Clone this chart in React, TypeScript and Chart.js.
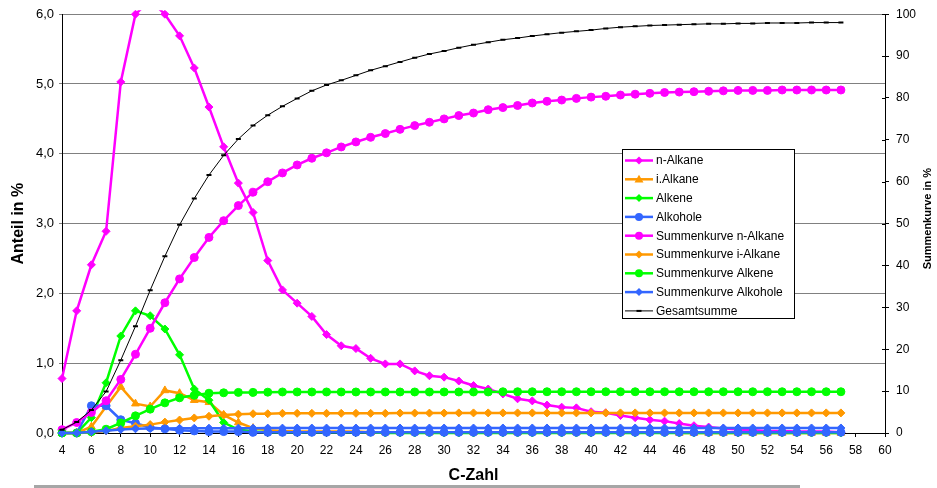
import React, { useEffect, useRef } from 'react';
import { Chart, registerables } from 'chart.js';

Chart.register(...registerables);

// ---------- data ----------
const carbonNumbers = [
  4, 5, 6, 7, 8, 9, 10, 11, 12, 13, 14, 15, 16, 17, 18, 19, 20, 21, 22, 23,
  24, 25, 26, 27, 28, 29, 30, 31, 32, 33, 34, 35, 36, 37, 38, 39, 40, 41, 42, 43,
  44, 45, 46, 47, 48, 49, 50, 51, 52, 53, 54, 55, 56, 57,
];

// left axis (Anteil in %)
const nAlkane = [
  0.78, 1.75, 2.41, 2.89, 5.03, 6.0, 6.2, 6.0, 5.69, 5.23,
  4.67, 4.1, 3.58, 3.16, 2.47, 2.05, 1.86, 1.67, 1.41, 1.25,
  1.21, 1.07, 0.99, 0.99, 0.89, 0.82, 0.8, 0.745, 0.68, 0.63,
  0.56, 0.49, 0.46, 0.4, 0.37, 0.36, 0.305, 0.29, 0.25, 0.22,
  0.19, 0.17, 0.135, 0.105, 0.085, 0.065, 0.05, 0.04, 0.03, 0.03,
  0.02, 0.02, 0.02, 0.01,
];
const iAlkane = [
  0, 0, 0.09, 0.38, 0.66, 0.42, 0.38, 0.61, 0.57, 0.47,
  0.44, 0.26, 0.15, 0.07, 0.04, 0.03, 0.02, 0.02, 0.02, 0.02,
  0.02, 0.01, 0.01, 0.01, 0.01, 0.01, 0.01, 0.01, 0.01, 0.01,
  0.01, 0.01, 0.01, 0.01, 0.01, 0.01, 0.01, 0.01, 0.01, 0.01,
  0.01, 0.01, 0, 0, 0, 0, 0, 0, 0, 0,
  0, 0, 0, 0,
];
const alkene = [
  0, 0, 0.22, 0.72, 1.39, 1.75, 1.68, 1.49, 1.12, 0.63,
  0.47, 0.15, 0.05, 0.02, 0.01, 0.01, 0.01, 0.01, 0.01, 0.01,
  0.01, 0.01, 0, 0, 0, 0, 0, 0, 0, 0,
  0, 0, 0, 0, 0, 0, 0, 0, 0, 0,
  0, 0, 0, 0, 0, 0, 0, 0, 0, 0,
  0, 0, 0, 0,
];
const alkohole = [
  0, 0, 0.39, 0.39, 0.19, 0.14, 0.08, 0.06, 0.04, 0.03,
  0.02, 0.02, 0.02, 0.01, 0.01, 0.01, 0.01, 0.01, 0.01, 0.01,
  0.01, 0.01, 0.01, 0.01, 0.01, 0.01, 0.01, 0.01, 0.01, 0.01,
  0.01, 0.01, 0.01, 0.01, 0.01, 0.01, 0.01, 0.01, 0.01, 0.01,
  0.01, 0.01, 0.01, 0.01, 0.01, 0.01, 0.01, 0.01, 0.01, 0.01,
  0.01, 0.01, 0.01, 0.01,
];

// right axis (Summenkurve in %)
const sumNAlkane = [
  0.8, 2.5, 4.9, 7.7, 12.8, 18.8, 25.0, 31.1, 36.8, 41.9,
  46.7, 50.7, 54.3, 57.5, 60.0, 62.1, 64.0, 65.6, 66.9, 68.3,
  69.5, 70.6, 71.5, 72.5, 73.4, 74.2, 75.0, 75.8, 76.4, 77.2,
  77.7, 78.2, 78.8, 79.2, 79.5, 79.9, 80.2, 80.4, 80.7, 80.9,
  81.1, 81.3, 81.4, 81.5, 81.6, 81.7, 81.8, 81.8, 81.8, 81.9,
  81.9, 81.9, 81.9, 81.9,
];
const sumIAlkane = [
  0, 0, 0.1, 0.5, 1.2, 1.6, 2.0, 2.6, 3.1, 3.6,
  4.0, 4.3, 4.5, 4.6, 4.6, 4.7, 4.7, 4.7, 4.7, 4.7,
  4.7, 4.7, 4.7, 4.75, 4.75, 4.75, 4.75, 4.8, 4.8, 4.8,
  4.8, 4.8, 4.8, 4.8, 4.8, 4.8, 4.8, 4.8, 4.8, 4.8,
  4.8, 4.8, 4.8, 4.8, 4.8, 4.8, 4.8, 4.8, 4.8, 4.8,
  4.8, 4.8, 4.8, 4.8,
];
const sumAlkene = [
  0, 0, 0.3, 0.9, 2.4, 4.1, 5.7, 7.2, 8.4, 9.0,
  9.5, 9.6, 9.7, 9.7, 9.75, 9.8, 9.8, 9.8, 9.8, 9.8,
  9.8, 9.8, 9.8, 9.8, 9.8, 9.8, 9.8, 9.8, 9.8, 9.8,
  9.85, 9.85, 9.85, 9.85, 9.85, 9.85, 9.85, 9.85, 9.85, 9.85,
  9.85, 9.85, 9.85, 9.85, 9.85, 9.85, 9.85, 9.85, 9.85, 9.85,
  9.85, 9.85, 9.85, 9.85,
];
const sumAlkohole = [
  0, 0, 0.3, 0.55, 0.85, 1.0, 1.05, 1.1, 1.12, 1.14,
  1.15, 1.15, 1.16, 1.16, 1.17, 1.17, 1.18, 1.18, 1.18, 1.18,
  1.19, 1.19, 1.19, 1.19, 1.19, 1.19, 1.19, 1.19, 1.19, 1.19,
  1.2, 1.2, 1.2, 1.2, 1.2, 1.2, 1.2, 1.2, 1.2, 1.2,
  1.2, 1.2, 1.2, 1.2, 1.2, 1.2, 1.2, 1.2, 1.2, 1.2,
  1.2, 1.2, 1.2, 1.2,
];
const gesamtsumme = [
  0.8, 2.6, 5.5, 9.9, 17.4, 25.5, 34.1, 42.2, 49.7, 56.0,
  61.6, 66.3, 70.2, 73.4, 75.9, 78.0, 79.9, 81.7, 83.1, 84.2,
  85.4, 86.6, 87.6, 88.6, 89.6, 90.5, 91.2, 92.0, 92.7, 93.3,
  93.9, 94.3, 94.8, 95.2, 95.6, 95.9, 96.2, 96.6, 96.9, 97.1,
  97.3, 97.4, 97.5, 97.6, 97.7, 97.7, 97.8, 97.8, 97.9, 97.9,
  97.9, 98.0, 98.0, 98.0,
];

const xTickMin = 4;
const xTickMax = 60;
const leftTicksMax = 6;
const rightTicksMax = 100;

// ---------- styling ----------
const MAGENTA = '#FF00FF';
const ORANGE = '#FF9900';
const GREEN = '#00FF00';
const BLUE = '#3366FF';
const FONT = "'Liberation Sans', Arial, Helvetica, sans-serif";

type Marker = 'diamond' | 'triangle' | 'circle' | 'dash';

const styleToChart: Record<Marker, string> = {
  diamond: 'rectRot',
  triangle: 'triangle',
  circle: 'circle',
  dash: 'line',
};

function makeSeries(
  label: string,
  values: number[],
  color: string,
  marker: Marker,
  axis: 'y' | 'y1',
  index: number,
) {
  const isDash = marker === 'dash';
  const radius = marker === 'circle' ? 4 : marker === 'triangle' ? 4.5 : isDash ? 2.5 : 4;
  return {
    label,
    data: carbonNumbers.map((c, i) => ({ x: c, y: values[i] })),
    yAxisID: axis,
    borderColor: color,
    backgroundColor: color,
    borderWidth: isDash ? 1 : 2.5,
    pointStyle: styleToChart[marker],
    pointRadius: radius,
    pointBorderWidth: isDash ? 2 : 1,
    pointBackgroundColor: color,
    pointBorderColor: color,
    tension: 0,
    fill: false,
    clip: { left: 8, right: 8, top: 4, bottom: 8 },
    order: 20 - index,
    _marker: marker,
  } as any;
}

function drawMarker(ctx: CanvasRenderingContext2D, marker: Marker, x: number, y: number, color: string) {
  ctx.save();
  ctx.fillStyle = color;
  ctx.strokeStyle = color;
  ctx.beginPath();
  if (marker === 'diamond') {
    const r = 4;
    ctx.moveTo(x, y - r);
    ctx.lineTo(x + r, y);
    ctx.lineTo(x, y + r);
    ctx.lineTo(x - r, y);
    ctx.closePath();
    ctx.fill();
  } else if (marker === 'triangle') {
    const r = 4.5;
    ctx.moveTo(x, y - r);
    ctx.lineTo(x + r, y + r * 0.7);
    ctx.lineTo(x - r, y + r * 0.7);
    ctx.closePath();
    ctx.fill();
  } else if (marker === 'circle') {
    ctx.arc(x, y, 4, 0, Math.PI * 2);
    ctx.fill();
  } else {
    ctx.lineWidth = 2;
    ctx.moveTo(x - 2.5, y);
    ctx.lineTo(x + 2.5, y);
    ctx.stroke();
  }
  ctx.restore();
}

const decorPlugin = {
  id: 'decor',
  afterDraw(chart: any) {
    const ctx: CanvasRenderingContext2D = chart.ctx;
    const area = chart.chartArea;

    // inner tick marks on right axis
    const y1 = chart.scales.y1;
    ctx.save();
    ctx.strokeStyle = '#000';
    ctx.lineWidth = 1;
    y1.ticks.forEach((t: any) => {
      const py = Math.round(y1.getPixelForValue(t.value)) + 0.5;
      ctx.beginPath();
      ctx.moveTo(area.right - 3, py);
      ctx.lineTo(area.right, py);
      ctx.stroke();
    });
    ctx.restore();

    // axis titles
    ctx.save();
    ctx.fillStyle = '#000';
    ctx.textAlign = 'center';
    ctx.textBaseline = 'middle';
    const midY = (area.top + area.bottom) / 2;

    ctx.save();
    ctx.translate(19, midY);
    ctx.rotate(-Math.PI / 2);
    ctx.font = `bold 16px ${FONT}`;
    ctx.fillText('Anteil in %', 0, 0);
    ctx.restore();

    ctx.save();
    ctx.translate(928, midY - 5);
    ctx.rotate(-Math.PI / 2);
    ctx.font = `bold 11px ${FONT}`;
    ctx.fillText('Summenkurve in %', 0, 0);
    ctx.restore();

    ctx.font = `bold 16px ${FONT}`;
    ctx.fillText('C-Zahl', (area.left + area.right) / 2, 476);
    ctx.restore();

    // separator line at bottom
    ctx.save();
    ctx.fillStyle = '#a6a6a6';
    ctx.fillRect(34, 485, 766, 3);
    ctx.restore();

    // legend
    const lx = 622;
    const ly = 149;
    const lw = 173;
    const lh = 170;
    ctx.save();
    ctx.fillStyle = '#fff';
    ctx.fillRect(lx, ly, lw, lh);
    ctx.strokeStyle = '#000';
    ctx.lineWidth = 1;
    ctx.strokeRect(lx + 0.5, ly + 0.5, lw - 1, lh - 1);
    ctx.font = `12px ${FONT}`;
    ctx.textAlign = 'left';
    ctx.textBaseline = 'middle';
    const ds = chart.data.datasets;
    ds.forEach((d: any, i: number) => {
      const ry = ly + 11.5 + i * 18.8;
      ctx.strokeStyle = d.borderColor;
      ctx.lineWidth = d._marker === 'dash' ? 1 : 2.5;
      ctx.beginPath();
      ctx.moveTo(lx + 3, ry);
      ctx.lineTo(lx + 31, ry);
      ctx.stroke();
      drawMarker(ctx, d._marker, lx + 17, ry, d.borderColor);
      ctx.fillStyle = '#000';
      ctx.fillText(d.label, lx + 34, ry + 0.5);
    });
    ctx.restore();
  },
};

export default function App() {
  const canvasRef = useRef<HTMLCanvasElement | null>(null);

  useEffect(() => {
    document.body.style.margin = '0';
    const canvas = canvasRef.current;
    if (!canvas) return;
    Chart.defaults.font.family = FONT;
    Chart.defaults.color = '#000';

    const datasets = [
      makeSeries('n-Alkane', nAlkane, MAGENTA, 'diamond', 'y', 0),
      makeSeries('i.Alkane', iAlkane, ORANGE, 'triangle', 'y', 1),
      makeSeries('Alkene', alkene, GREEN, 'diamond', 'y', 2),
      makeSeries('Alkohole', alkohole, BLUE, 'circle', 'y', 3),
      makeSeries('Summenkurve n-Alkane', sumNAlkane, MAGENTA, 'circle', 'y1', 4),
      makeSeries('Summenkurve i-Alkane', sumIAlkane, ORANGE, 'diamond', 'y1', 5),
      makeSeries('Summenkurve Alkene', sumAlkene, GREEN, 'circle', 'y1', 6),
      makeSeries('Summenkurve Alkohole', sumAlkohole, BLUE, 'diamond', 'y1', 7),
      makeSeries('Gesamtsumme', gesamtsumme, '#000000', 'dash', 'y1', 8),
    ];

    const chart = new Chart(canvas, {
      type: 'line',
      data: { datasets },
      options: {
        animation: false,
        responsive: false,
        devicePixelRatio: 1,
        layout: { padding: { top: 14, left: 0, right: 0, bottom: 0 } },
        plugins: {
          legend: { display: false },
          tooltip: { enabled: false },
        },
        scales: {
          x: {
            type: 'linear',
            position: 'bottom',
            min: xTickMin,
            max: xTickMax,
            ticks: {
              stepSize: 2,
              font: { size: 12 },
              color: '#000',
              padding: 6,
              maxRotation: 0,
              autoSkip: false,
            },
            grid: { drawOnChartArea: false, tickLength: 4, color: '#000' },
            border: { color: '#000', width: 1 },
            afterFit: (s: any) => {
              s.height = 55;
            },
          },
          y: {
            position: 'left',
            min: 0,
            max: leftTicksMax,
            ticks: {
              stepSize: 1,
              font: { size: 13 },
              color: '#000',
              padding: 5,
              callback: (v: any) => Number(v).toFixed(1).replace('.', ','),
            },
            grid: { color: '#808080', tickLength: 3, tickColor: '#808080' },
            border: { color: '#000', width: 1 },
            afterFit: (s: any) => {
              s.width = 62;
            },
          },
          y1: {
            position: 'right',
            min: 0,
            max: rightTicksMax,
            ticks: {
              stepSize: 10,
              font: { size: 12 },
              color: '#000',
              padding: 7,
            },
            grid: { drawOnChartArea: false, tickLength: 4, tickColor: '#000' },
            border: { color: '#000', width: 1 },
            afterFit: (s: any) => {
              s.width = 52;
            },
          },
        },
      } as any,
      plugins: [decorPlugin],
    });

    return () => {
      chart.destroy();
    };
  }, []);

  return (
    <div style={{ position: 'absolute', left: 0, top: 0, width: 937, height: 488, background: '#fff' }}>
      <canvas ref={canvasRef} width={937} height={488} style={{ display: 'block' }} />
    </div>
  );
}
